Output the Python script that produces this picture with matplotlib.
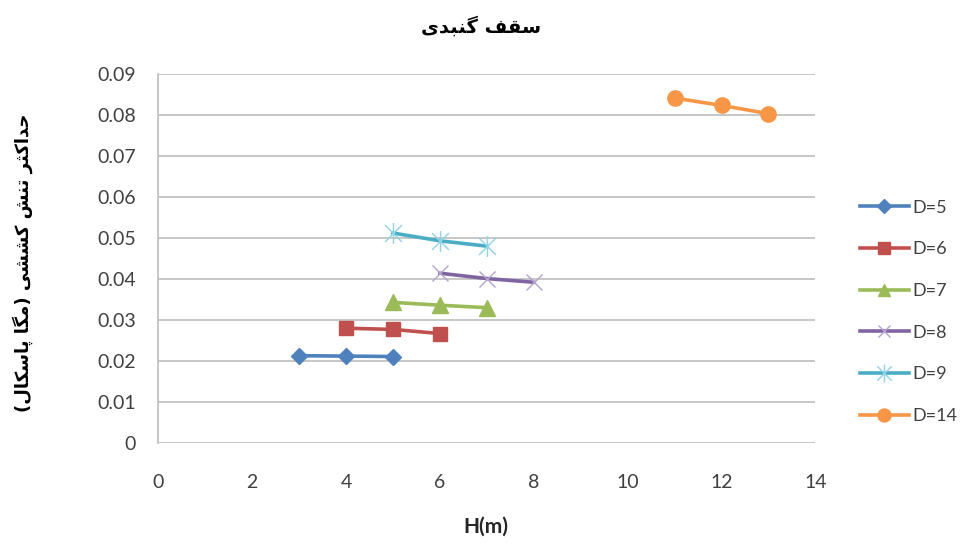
import matplotlib
matplotlib.use("Agg")
import matplotlib.pyplot as plt
from matplotlib.path import Path

# ---- data ----
series_labels = ["D=5", "D=6", "D=7", "D=8", "D=9", "D=14"]
h_d5 = [3, 4, 5]
s_d5 = [0.0213, 0.0212, 0.0211]
h_d6 = [4, 5, 6]
s_d6 = [0.0280, 0.0277, 0.0267]
h_d7 = [5, 6, 7]
s_d7 = [0.0343, 0.0336, 0.0330]
h_d8 = [6, 7, 8]
s_d8 = [0.0414, 0.0401, 0.0392]
h_d9 = [5, 6, 7]
s_d9 = [0.0512, 0.0493, 0.0480]
h_d14 = [11, 12, 13]
s_d14 = [0.0841, 0.0823, 0.0803]

x_ticks = [0, 2, 4, 6, 8, 10, 12, 14]
y_ticks = [0, 0.01, 0.02, 0.03, 0.04, 0.05, 0.06, 0.07, 0.08, 0.09]
y_tick_labels = ["0", "0.01", "0.02", "0.03", "0.04", "0.05", "0.06", "0.07", "0.08", "0.09"]

title_text = "سقف گنبدی"
ylabel_text = "حداکثر تنش کششی (مگا پاسکال)"
xlabel_text = "H(m)"

# ---- minimal Persian shaping (contextual forms + visual order) ----
FORMS = {
    "ا": ("\uFE8D", "\uFE8E", None, None),
    "ب": ("\uFE8F", "\uFE90", "\uFE91", "\uFE92"),
    "پ": ("\uFB56", "\uFB57", "\uFB58", "\uFB59"),
    "ت": ("\uFE95", "\uFE96", "\uFE97", "\uFE98"),
    "ث": ("\uFE99", "\uFE9A", "\uFE9B", "\uFE9C"),
    "ح": ("\uFEA1", "\uFEA2", "\uFEA3", "\uFEA4"),
    "د": ("\uFEA9", "\uFEAA", None, None),
    "ر": ("\uFEAD", "\uFEAE", None, None),
    "س": ("\uFEB1", "\uFEB2", "\uFEB3", "\uFEB4"),
    "ش": ("\uFEB5", "\uFEB6", "\uFEB7", "\uFEB8"),
    "ف": ("\uFED1", "\uFED2", "\uFED3", "\uFED4"),
    "ق": ("\uFED5", "\uFED6", "\uFED7", "\uFED8"),
    "ک": ("\uFB8E", "\uFB8F", "\uFB90", "\uFB91"),
    "گ": ("\uFB92", "\uFB93", "\uFB94", "\uFB95"),
    "ل": ("\uFEDD", "\uFEDE", "\uFEDF", "\uFEE0"),
    "م": ("\uFEE1", "\uFEE2", "\uFEE3", "\uFEE4"),
    "ن": ("\uFEE5", "\uFEE6", "\uFEE7", "\uFEE8"),
    "ی": ("\uFBFC", "\uFBFD", "\uFBFE", "\uFBFF"),
}
MIRROR = {"(": ")", ")": "("}


def shape_rtl(text):
    out = []
    n = len(text)
    for i, ch in enumerate(text):
        if ch not in FORMS:
            out.append(MIRROR.get(ch, ch))
            continue
        prev = text[i - 1] if i > 0 else ""
        nxt = text[i + 1] if i < n - 1 else ""
        joins_prev = prev in FORMS and FORMS[prev][2] is not None
        joins_next = nxt in FORMS and FORMS[ch][2] is not None
        iso, fin, ini, med = FORMS[ch]
        if joins_prev and joins_next:
            g = med
        elif joins_prev:
            g = fin
        elif joins_next:
            g = ini
        else:
            g = iso
        out.append(g)
    return "".join(reversed(out))


# asterisk marker: diagonal cross plus vertical bar
star_path = Path(
    [(-0.5, -0.5), (0.5, 0.5), (-0.5, 0.5), (0.5, -0.5), (0, -0.62), (0, 0.62)],
    [Path.MOVETO, Path.LINETO, Path.MOVETO, Path.LINETO, Path.MOVETO, Path.LINETO],
)

plt.rcParams["font.family"] = ["Lato", "DejaVu Sans"]

fig = plt.figure(figsize=(9.65, 5.47), dpi=100)
ax = fig.add_axes([0.164, 0.190, 0.681, 0.675])

grid_color = "#BEBEBE"
lw = 2.6

ax.plot(h_d5, s_d5, color="#4F81BD", lw=lw, marker="D", ms=8,
        mec="#4F81BD", mfc="#4F81BD", label=series_labels[0], zorder=3)
ax.plot(h_d6, s_d6, color="#C0504D", lw=lw, marker="s", ms=10,
        mec="#C0504D", mfc="#C0504D", label=series_labels[1], zorder=3)
ax.plot(h_d7, s_d7, color="#9BBB59", lw=lw, marker="^", ms=11,
        mec="#9BBB59", mfc="#9BBB59", label=series_labels[2], zorder=3)
ax.plot(h_d8, s_d8, color="#8064A2", lw=lw, marker="x", ms=11, mew=1.0,
        mec="#B4A2CF", label=series_labels[3], zorder=3)
ax.plot(h_d9, s_d9, color="#4BACC6", lw=lw, marker=star_path, ms=15, mew=1.0,
        mec="#8ED3E6", label=series_labels[4], zorder=3)
ax.plot(h_d14, s_d14, color="#F79646", lw=lw, marker="o", ms=11,
        mec="#F79646", mfc="#F79646", label=series_labels[5], zorder=3)

ax.set_xlim(0, 14)
ax.set_ylim(0, 0.09)
ax.set_xticks(x_ticks)
ax.set_yticks(y_ticks)
ax.set_yticklabels(y_tick_labels)
ax.tick_params(axis="both", length=0, labelsize=14, labelcolor="#404040")
ax.tick_params(axis="y", pad=16)
ax.tick_params(axis="x", pad=22)

ax.grid(axis="y", color=grid_color, lw=1.2, zorder=0)
for side in ("top", "right", "bottom"):
    ax.spines[side].set_visible(False)
ax.spines["left"].set_color(grid_color)
ax.spines["left"].set_linewidth(1.2)

fig.text(0.498, 0.952, shape_rtl(title_text), ha="center", va="center",
         fontsize=14, fontweight="bold", family=["DejaVu Sans"])
fig.text(0.503, 0.037, xlabel_text, ha="center", va="center",
         fontsize=15, fontweight="bold", color="#262626")
fig.text(0.024, 0.519, shape_rtl(ylabel_text), ha="center", va="center",
         rotation=90, fontsize=13, fontweight="bold", family=["DejaVu Sans"])

leg = fig.legend(loc="center left", bbox_to_anchor=(0.874, 0.430), frameon=False,
                 fontsize=13, handlelength=2.75, labelspacing=1.42,
                 handletextpad=0.15, markerscale=0.85)
for t in leg.get_texts():
    t.set_color("#404040")

fig.savefig("out.png", dpi=100)
